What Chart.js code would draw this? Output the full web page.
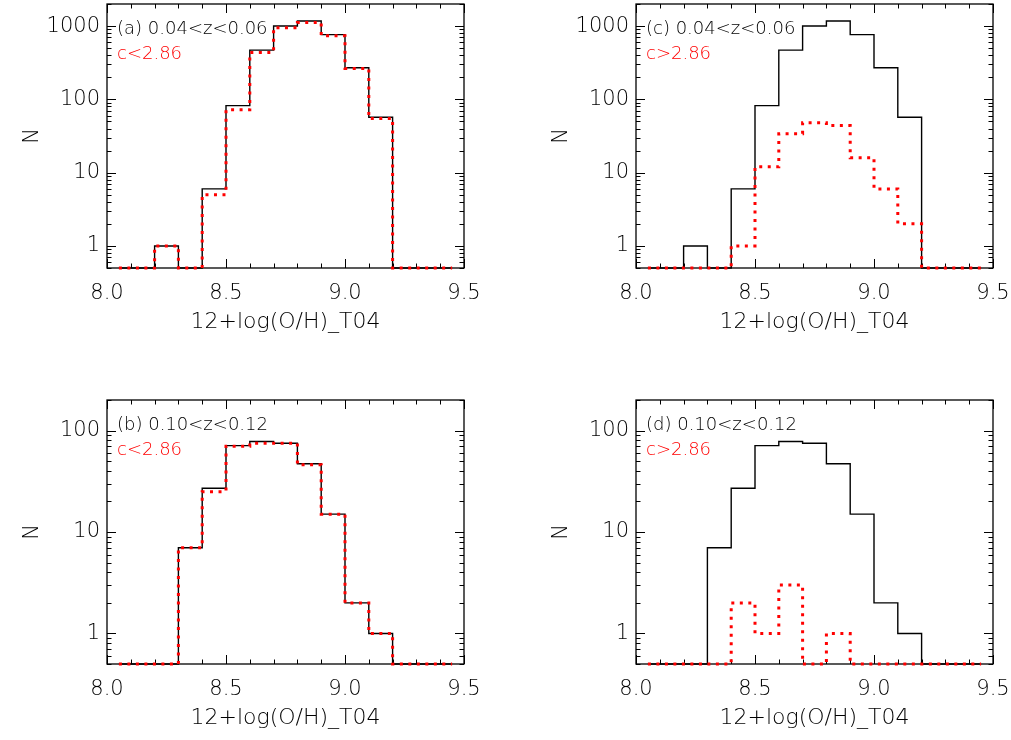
<!DOCTYPE html>
<html>
<head>
<meta charset="utf-8">
<script src="https://cdn.jsdelivr.net/npm/chart.js@4.4.1/dist/chart.umd.min.js"></script>
<style>
    body { margin: 0; background: #fff; width: 1011px; height: 740px; overflow: hidden; position: relative; }
    canvas { position: absolute; }
</style>
</head>
<body>
<canvas id="painelA" width="480" height="344" style="left:0px;top:0px"></canvas>
<canvas id="painelC" width="480" height="344" style="left:529px;top:0px"></canvas>
<canvas id="painelB" width="480" height="344" style="left:0px;top:396px"></canvas>
<canvas id="painelD" width="480" height="344" style="left:529px;top:396px"></canvas>
<script>
// Histogramas de 12+log(O/H)_T04 em dois intervalos de z, separados por c

const centrosBins = [8.05, 8.15, 8.25, 8.35, 8.45, 8.55, 8.65, 8.75, 8.85, 8.95, 9.05, 9.15, 9.25, 9.35, 9.45];

// 0.04<z<0.06
const nTodosZ004  = [0, 0, 1, 0, 6, 82, 470, 1000, 1170, 765, 270, 57, 0, 0, 0];
const nCBaixoZ004 = [0, 0, 1, 0, 5, 72, 435, 950, 1120, 740, 264, 55, 0, 0, 0];
const nCAltoZ004  = [0, 0, 0, 0, 1, 12, 34, 48, 44, 16, 6, 2, 0, 0, 0];

// 0.10<z<0.12
const nTodosZ010  = [0, 0, 0, 7, 27, 71, 78, 75, 47, 15, 2, 1, 0, 0, 0];
const nCBaixoZ010 = [0, 0, 0, 7, 25, 70, 75, 75, 46, 15, 2, 1, 0, 0, 0];
const nCAltoZ010  = [0, 0, 0, 0, 2, 1, 3, 0, 1, 0, 0, 0, 0, 0, 0];

const xTickValores = [8.0, 8.5, 9.0, 9.5];
const xTickRotulos = ['8.0', '8.5', '9.0', '9.5'];
const yTickRotulos = ['1', '10', '100', '1000'];

const Y_MIN = 0.5;
const FONTE = "'DejaVu Sans', 'Liberation Sans', sans-serif";

function ehMaiorX(v) {
    return xTickValores.some(t => Math.abs(t - v) < 1e-6);
}

function ehMaiorY(v) {
    const l = Math.log10(v);
    return Math.abs(l - Math.round(l)) < 1e-9;
}

// sem folga extra para os rótulos das pontas, a área fica onde o layout manda
function semFolga(s) {
    s.paddingLeft = 0;
    s.paddingRight = 0;
    s.paddingTop = 0;
    s.paddingBottom = 0;
}

// moldura fechada com marcas para dentro nos quatro lados
const moldura = {
    id: 'moldura',
    beforeDatasetsDraw(chart) {
        const { ctx, chartArea: a, scales: { x, y } } = chart;
        ctx.save();
        ctx.strokeStyle = '#000';
        ctx.lineWidth = 1;
        ctx.beginPath();
        x.ticks.forEach(t => {
            const px = Math.round(x.getPixelForValue(t.value)) + 0.5;
            const len = ehMaiorX(t.value) ? 9 : 4.5;
            ctx.moveTo(px, a.bottom); ctx.lineTo(px, a.bottom - len);
            ctx.moveTo(px, a.top);    ctx.lineTo(px, a.top + len);
        });
        y.ticks.forEach(t => {
            const py = Math.round(y.getPixelForValue(t.value)) + 0.5;
            const len = ehMaiorY(t.value) ? 9 : 4.5;
            ctx.moveTo(a.left, py);  ctx.lineTo(a.left + len, py);
            ctx.moveTo(a.right, py); ctx.lineTo(a.right - len, py);
        });
        ctx.stroke();
        ctx.lineWidth = 1.3;
        ctx.strokeRect(a.left, a.top, a.right - a.left, a.bottom - a.top);
        ctx.restore();
    }
};

// texto do canto superior esquerdo de cada painel
const rotulo = {
    id: 'rotulo',
    afterDraw(chart, args, opts) {
        const { ctx, chartArea: a } = chart;
        ctx.save();
        ctx.font = `200 18px ${FONTE}`;
        ctx.textBaseline = 'alphabetic';
        ctx.fillStyle = '#000';
        ctx.fillText(opts.linha1, a.left + 10, a.top + 30);
        ctx.fillStyle = '#ff0000';
        ctx.fillText(opts.linha2, a.left + 10, a.top + 55);
        ctx.restore();
    }
};

function pontos(valores) {
    return centrosBins.map((x, i) => ({ x, y: Math.max(valores[i], Y_MIN) }));
}

function criarPainel(id, todos, corte, yMax, linha1, linha2) {
    const canvas = document.getElementById(id);
    const fonte = { family: FONTE, size: 21, weight: '200' };
    const fonteTitulo = { family: FONTE, size: 22, weight: '200' };

    new Chart(canvas, {
        type: 'line',
        data: {
            datasets: [
                {
                    data: pontos(corte),
                    borderColor: '#ff0000',
                    borderWidth: 3,
                    borderDash: [3, 5.5],
                    borderCapStyle: 'butt',
                    stepped: 'middle',
                    pointRadius: 0,
                    fill: false,
                    clip: false,
                    order: 0,
                },
                {
                    data: pontos(todos),
                    borderColor: '#000',
                    borderWidth: 1.4,
                    stepped: 'middle',
                    pointRadius: 0,
                    fill: false,
                    clip: false,
                    order: 1,
                }
            ]
        },
        options: {
            responsive: false,
            animation: false,
            layout: { padding: { top: 4, right: 16, left: 0, bottom: 0 } },
            plugins: {
                legend: { display: false },
                tooltip: { enabled: false },
                rotulo: { linha1, linha2 }
            },
            scales: {
                x: {
                    type: 'linear',
                    min: 8.0,
                    max: 9.5,
                    afterBuildTicks: s => {
                        const t = [];
                        for (let i = 0; i <= 15; i++) t.push({ value: Math.round((8.0 + i * 0.1) * 10) / 10 });
                        s.ticks = t;
                    },
                    afterFit: s => { s.height = 76; semFolga(s); },
                    grid: { display: false, drawTicks: false, tickLength: 0 },
                    border: { display: false },
                    ticks: {
                        autoSkip: false,
                        maxRotation: 0,
                        padding: 13,
                        color: '#000',
                        font: fonte,
                        callback: v => {
                            const i = xTickValores.findIndex(t => Math.abs(t - v) < 1e-6);
                            return i >= 0 ? xTickRotulos[i] : '';
                        }
                    },
                    title: {
                        display: true,
                        text: '12+log(O/H)_T04',
                        color: '#000',
                        font: fonteTitulo,
                        padding: { top: 0, bottom: 9 }
                    }
                },
                y: {
                    type: 'logarithmic',
                    min: Y_MIN,
                    max: yMax,
                    afterBuildTicks: s => {
                        const t = [];
                        for (let n = -1; n <= 3; n++) {
                            for (let k = 1; k <= 9; k++) {
                                const v = k * Math.pow(10, n);
                                if (v >= Y_MIN - 1e-9 && v <= yMax + 1e-9) t.push({ value: v });
                            }
                        }
                        s.ticks = t;
                    },
                    afterFit: s => { s.width = 107; semFolga(s); },
                    grid: { display: false, drawTicks: false, tickLength: 0 },
                    border: { display: false },
                    ticks: {
                        autoSkip: false,
                        padding: 7,
                        color: '#000',
                        font: fonte,
                        callback: v => {
                            const i = yTickRotulos.findIndex(r => Math.abs(Number(r) - v) < 1e-6);
                            return i >= 0 ? yTickRotulos[i] : '';
                        }
                    },
                    title: {
                        display: true,
                        text: 'N',
                        color: '#000',
                        font: fonte,
                        padding: { top: 20, bottom: 0 }
                    }
                }
            }
        },
        plugins: [moldura, rotulo]
    });
}

criarPainel('painelA', nTodosZ004, nCBaixoZ004, 2000, '(a) 0.04<z<0.06', 'c<2.86');
criarPainel('painelC', nTodosZ004, nCAltoZ004, 2000, '(c) 0.04<z<0.06', 'c>2.86');
criarPainel('painelB', nTodosZ010, nCBaixoZ010, 200, '(b) 0.10<z<0.12', 'c<2.86');
criarPainel('painelD', nTodosZ010, nCAltoZ010, 200, '(d) 0.10<z<0.12', 'c>2.86');
</script>
</body>
</html>
